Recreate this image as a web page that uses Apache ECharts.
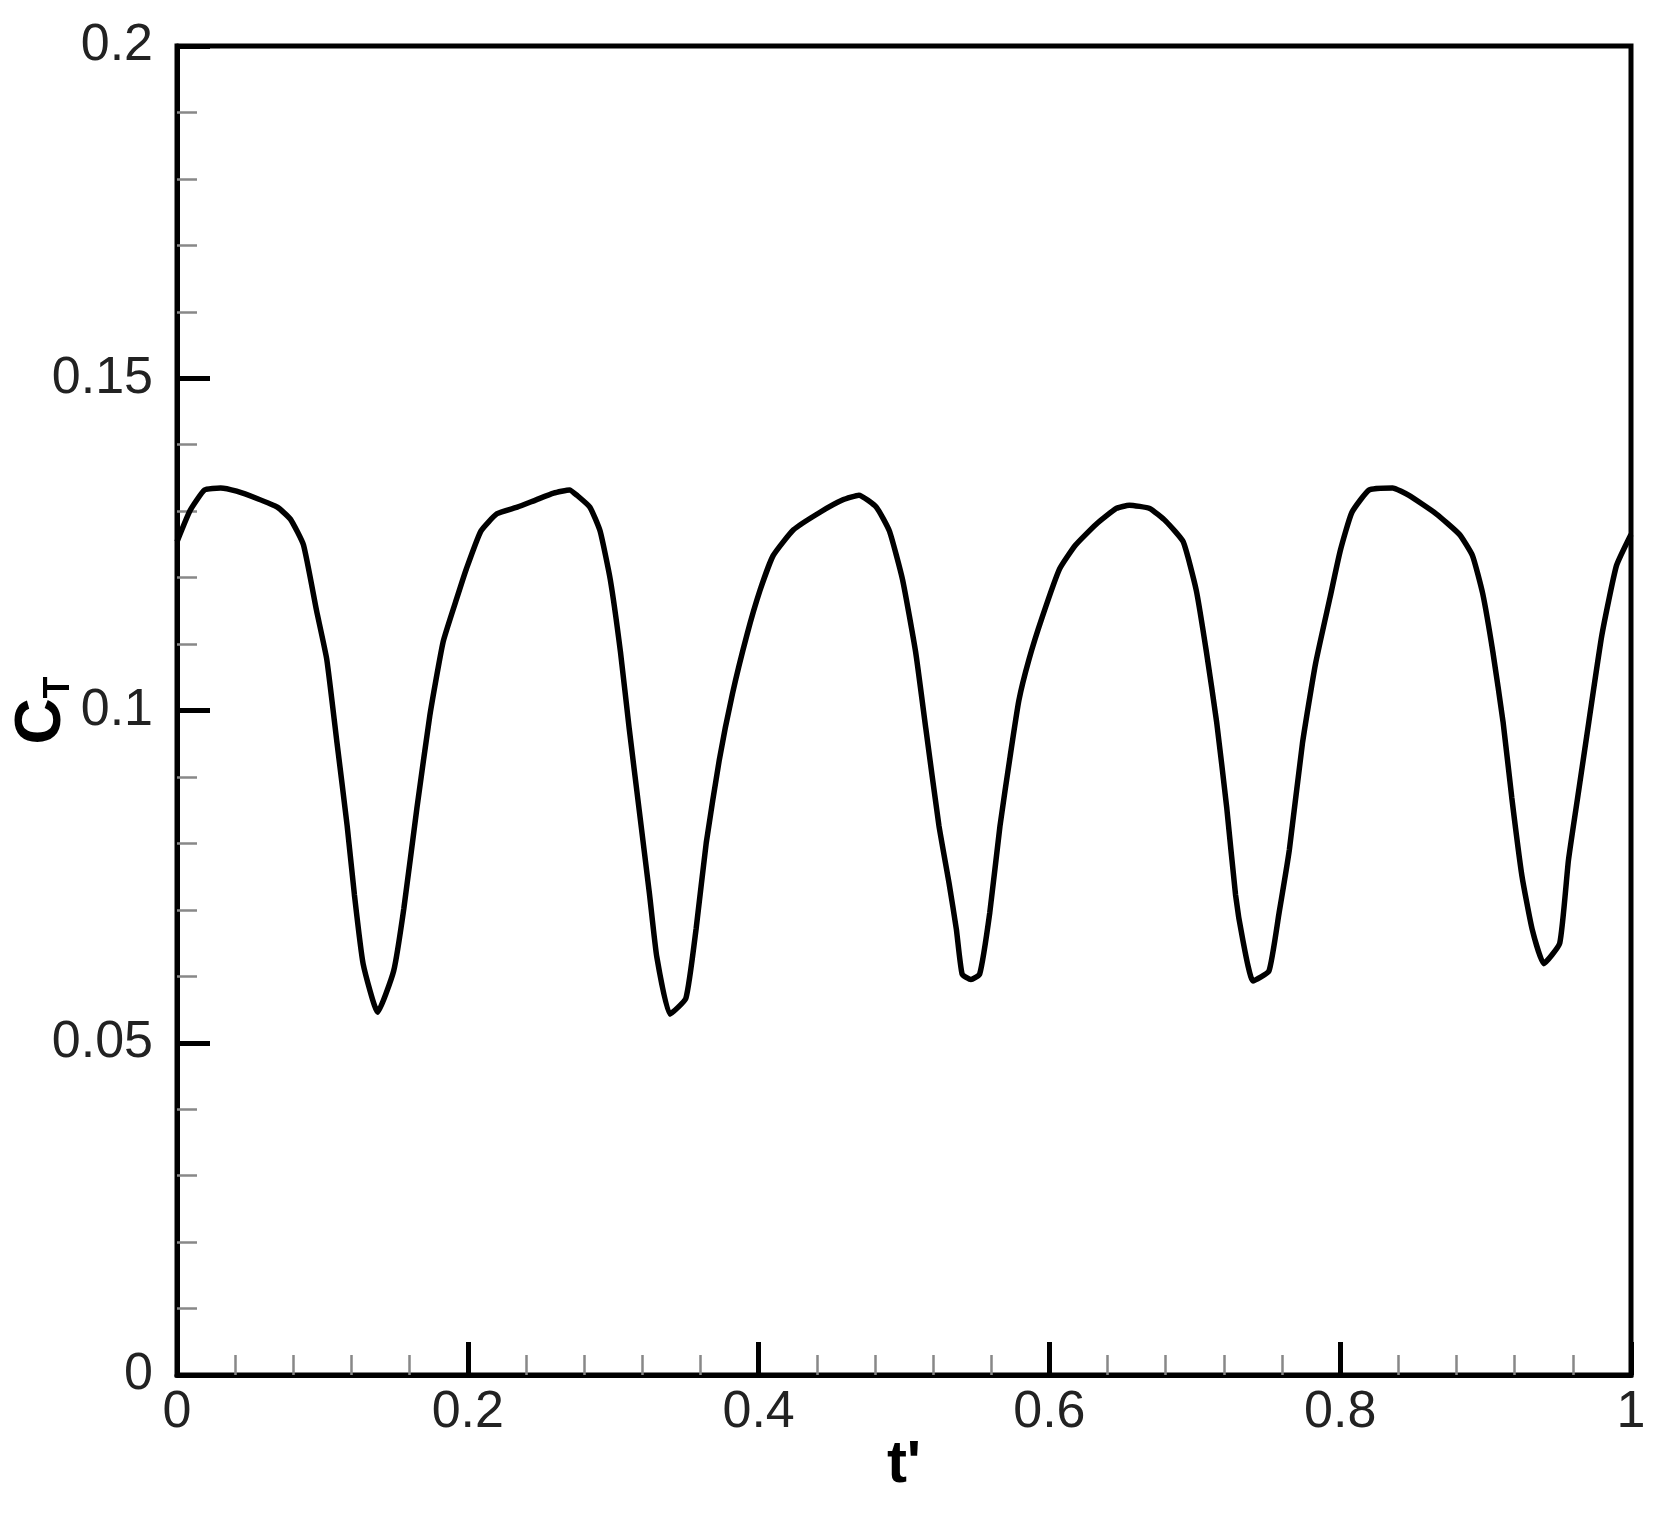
<!DOCTYPE html>
<html>
<head>
<meta charset="utf-8">
<script src="https://cdn.jsdelivr.net/npm/echarts@6/dist/echarts.min.js"></script>
<style>
  html, body { margin: 0; padding: 0; background: #fff; }
  #chart { width: 1660px; height: 1514px; }
</style>
</head>
<body>
<div id="chart"></div>
<script>
  // t' values (fraction of period)
  var tVals = [
    0.000, 0.009, 0.019, 0.030, 0.041, 0.055, 0.069, 0.078, 0.087, 0.096,
    0.103, 0.110, 0.117, 0.122, 0.128, 0.138, 0.149, 0.156, 0.165, 0.174,
    0.183, 0.192, 0.199, 0.209, 0.220, 0.234, 0.247, 0.259, 0.270, 0.275,
    0.284, 0.291, 0.298, 0.305, 0.311, 0.318, 0.325, 0.330, 0.339, 0.350,
    0.357, 0.364, 0.373, 0.382, 0.392, 0.401, 0.410, 0.424, 0.442, 0.458,
    0.469, 0.481, 0.490, 0.499, 0.508, 0.515, 0.524, 0.531, 0.536, 0.540,
    0.546, 0.552, 0.559, 0.566, 0.573, 0.579, 0.586, 0.595, 0.607, 0.618,
    0.632, 0.646, 0.655, 0.669, 0.680, 0.692, 0.701, 0.708, 0.715, 0.722,
    0.728, 0.733, 0.740, 0.751, 0.758, 0.765, 0.774, 0.783, 0.793, 0.800,
    0.808, 0.820, 0.836, 0.847, 0.866, 0.882, 0.891, 0.898, 0.905, 0.912,
    0.918, 0.925, 0.932, 0.940, 0.951, 0.957, 0.964, 0.971, 0.980, 0.990,
    1.000
  ];
  // thrust coefficient C_T
  var ctVals = [
    0.1254, 0.1301, 0.1332, 0.1335, 0.1330, 0.1319, 0.1306, 0.1288, 0.1249, 0.1150,
    0.1077, 0.0952, 0.0827, 0.0723, 0.0619, 0.0546, 0.0608, 0.0702, 0.0853, 0.0994,
    0.1103, 0.1166, 0.1213, 0.1270, 0.1296, 0.1306, 0.1317, 0.1327, 0.1332, 0.1324,
    0.1306, 0.1270, 0.1197, 0.1088, 0.0973, 0.0848, 0.0723, 0.0629, 0.0543, 0.0567,
    0.0671, 0.0801, 0.0926, 0.1025, 0.1114, 0.1181, 0.1233, 0.1272, 0.1298, 0.1317,
    0.1324, 0.1306, 0.1270, 0.1197, 0.1088, 0.0973, 0.0827, 0.0740, 0.0671, 0.0603,
    0.0595, 0.0603, 0.0696, 0.0826, 0.0931, 0.1015, 0.1077, 0.1140, 0.1213, 0.1249,
    0.1280, 0.1304, 0.1309, 0.1304, 0.1285, 0.1254, 0.1181, 0.1088, 0.0983, 0.0853,
    0.0723, 0.0655, 0.0593, 0.0608, 0.0696, 0.0790, 0.0950, 0.1070, 0.1170, 0.1240,
    0.1298, 0.1332, 0.1335, 0.1324, 0.1296, 0.1265, 0.1233, 0.1176, 0.1088, 0.0983,
    0.0869, 0.0751, 0.0671, 0.0619, 0.0650, 0.0775, 0.0879, 0.0983, 0.1114, 0.1218,
    0.1265
  ];
  var xTickLabels = ['0', '0.2', '0.4', '0.6', '0.8', '1'];
  var yTickLabels = ['0', '0.05', '0.1', '0.15', '0.2'];

  var font = "'Liberation Sans', Arial, sans-serif";
  var chart = echarts.init(document.getElementById('chart'));

  var points = [];
  for (var i = 0; i < tVals.length; i++) {
    points.push([tVals[i], ctVals[i]]);
  }

  chart.setOption({
    animation: false,
    backgroundColor: '#fff',
    grid: {
      left: 177, right: 29, top: 46, bottom: 139,
      show: true,
      borderColor: '#000',
      borderWidth: 5,
      containLabel: false,
      outerBoundsMode: 'none'
    },
    xAxis: {
      type: 'value',
      min: 0, max: 1, interval: 0.2,
      name: "t'",
      nameLocation: 'middle',
      nameGap: 60,
      nameMoveOverlap: false,
      nameTextStyle: { fontFamily: font, fontSize: 60, fontWeight: 'bold', color: '#000' },
      axisLine: { lineStyle: { color: '#000', width: 5 } },
      axisTick: { inside: true, length: 33, lineStyle: { color: '#000', width: 5 } },
      minorTick: { show: true, splitNumber: 5, length: 20, lineStyle: { color: '#888', width: 2.5 } },
      splitLine: { show: false },
      axisLabel: {
        fontFamily: font, fontSize: 52, color: '#222', margin: 12,
        formatter: function (v) { return xTickLabels[Math.round(v / 0.2)]; }
      }
    },
    yAxis: {
      type: 'value',
      min: 0, max: 0.2, interval: 0.05,
      name: '{c|C}{t|T}',
      nameLocation: 'middle',
      nameRotate: 90,
      nameGap: 100,
      nameMoveOverlap: false,
      nameTextStyle: {
        rich: {
          c: { fontFamily: font, fontSize: 64, fontWeight: 'bold', color: '#000', lineHeight: 70 },
          t: { fontFamily: font, fontSize: 36, fontWeight: 'bold', color: '#000', lineHeight: 20, verticalAlign: 'bottom' }
        }
      },
      axisLine: { lineStyle: { color: '#000', width: 5 } },
      axisTick: { inside: true, length: 33, lineStyle: { color: '#000', width: 5 } },
      minorTick: { show: true, splitNumber: 5, length: 20, lineStyle: { color: '#888', width: 2.5 } },
      splitLine: { show: false },
      axisLabel: {
        fontFamily: font, fontSize: 52, color: '#222', margin: 24,
        formatter: function (v) { return yTickLabels[Math.round(v / 0.05)]; }
      }
    },
    series: [{
      type: 'line',
      data: points,
      showSymbol: false,
      smooth: 0.15,
      lineStyle: { color: '#000', width: 5.5 }
    }]
  });
</script>
</body>
</html>
